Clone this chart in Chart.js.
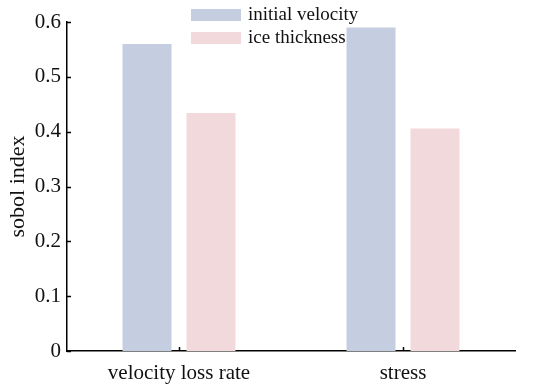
<!DOCTYPE html>
<html>
<head>
<meta charset="utf-8">
<script src="https://cdn.jsdelivr.net/npm/chart.js@4"></script>
<style>
  html, body { margin: 0; padding: 0; background: #fff; }
  #wrap { width: 550px; height: 390px; }
</style>
</head>
<body>
<div id="wrap"><canvas id="myChart"></canvas></div>
<script>
// data
const categories = ['velocity loss rate', 'stress'];
const initialVelocity = [0.56, 0.59];
const iceThickness = [0.434, 0.406];
const seriesNames = ['initial velocity', 'ice thickness'];
const yTicks = [0, 0.1, 0.2, 0.3, 0.4, 0.5, 0.6];

const serif = '"Liberation Serif", "DejaVu Serif", serif';

// inward tick marks + the vertical legend box in the upper middle
const axisExtras = {
    id: 'axisExtras',
    afterDraw(chart) {
        const c = chart.ctx;
        const x = chart.scales.x, y = chart.scales.y;
        const area = chart.chartArea;
        c.save();
        c.strokeStyle = '#000';
        c.lineWidth = 1.5;
        y.ticks.forEach((t, i) => {
            const py = Math.round(y.getPixelForTick(i)) + 0.5;
            c.beginPath();
            c.moveTo(area.left, py);
            c.lineTo(area.left + 4, py);
            c.stroke();
        });
        x.ticks.forEach((t, i) => {
            const px = Math.round(x.getPixelForTick(i)) + 0.5;
            c.beginPath();
            c.moveTo(px, area.bottom);
            c.lineTo(px, area.bottom - 4);
            c.stroke();
        });

        // legend
        c.font = '19px ' + serif;
        c.textBaseline = 'middle';
        chart.data.datasets.forEach((ds, i) => {
            const top = 9 + i * 23;
            c.fillStyle = ds.backgroundColor;
            c.fillRect(191, top, 50, 12);
            c.fillStyle = '#111';
            c.fillText(ds.label, 248, top + 6);
        });
        c.restore();
    }
};

const ctx = document.getElementById('myChart');
const myChart = new Chart(ctx, {
    type: 'bar',
    data: {
        labels: categories,
        datasets: [{
            label: seriesNames[0],
            data: initialVelocity,
            backgroundColor: '#c5cde0'
        }, {
            label: seriesNames[1],
            data: iceThickness,
            backgroundColor: '#f1d9dc'
        }]
    },
    options: {
        responsive: true,
        maintainAspectRatio: false,
        animation: false,
        layout: {
            padding: { top: 22, right: 35, left: 0, bottom: 0 }
        },
        datasets: {
            bar: {
                categoryPercentage: 0.571,
                barPercentage: 0.766
            }
        },
        plugins: {
            legend: { display: false },
            tooltip: { enabled: false }
        },
        scales: {
            x: {
                grid: { display: false, drawTicks: false },
                border: { display: true, color: '#000', width: 1.5 },
                ticks: {
                    color: '#111',
                    padding: 10,
                    font: { family: serif, size: 21 }
                },
                afterFit(scale) { scale.height = 39; }
            },
            y: {
                min: 0,
                max: 0.6,
                afterBuildTicks(scale) {
                    scale.ticks = yTicks.map(v => ({ value: v }));
                },
                grid: { display: false, drawTicks: false },
                border: { display: true, color: '#000', width: 1.5 },
                ticks: {
                    color: '#111',
                    padding: 6,
                    font: { family: serif, size: 21 },
                    callback: v => String(Math.round(v * 10) / 10)
                },
                title: {
                    display: true,
                    text: 'sobol index',
                    color: '#111',
                    padding: { top: 5, bottom: 2 },
                    font: { family: serif, size: 22 }
                },
                afterFit(scale) { scale.width = 67; }
            }
        }
    },
    plugins: [axisExtras]
});
</script>
</body>
</html>
